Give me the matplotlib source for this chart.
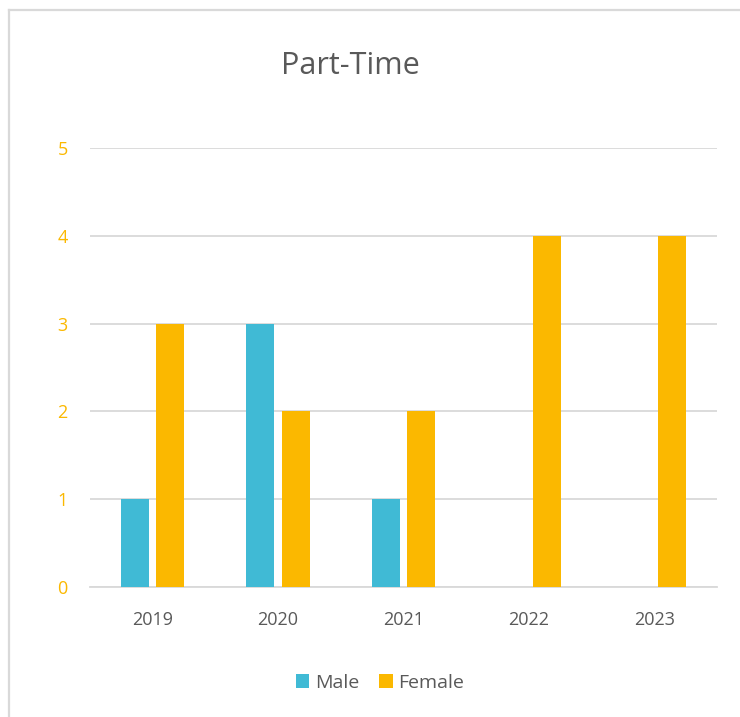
import matplotlib
matplotlib.use('Agg')
import matplotlib.pyplot as plt
import numpy as np
from matplotlib.lines import Line2D

plt.rcParams['font.family'] = ['Open Sans', 'DejaVu Sans']

# Data
years = ['2019', '2020', '2021', '2022', '2023']
male = [1, 3, 1, 0, 0]
female = [3, 2, 2, 4, 4]

MALE_CLR = '#40BAD5'
FEMALE_CLR = '#FBB800'
GRID_CLR = '#D9D9D9'
TEXT_CLR = '#595959'

W, H = 740, 717
fig = plt.figure(figsize=(W / 100, H / 100), dpi=100)

# outer chart border: only left and top edges are visible
bx, by = 8.5 / W, 1 - 9.5 / H
fig.add_artist(Line2D([bx, bx], [-0.05, by], transform=fig.transFigure,
                      color=GRID_CLR, lw=1.6))
fig.add_artist(Line2D([bx, 1.05], [by, by], transform=fig.transFigure,
                      color=GRID_CLR, lw=1.6))

ax = fig.add_axes([90 / W, 1 - 587 / H, (717 - 90) / W, (587 - 148) / H])

x = np.arange(len(years))
bw = 0.223
off = 0.141
ax.bar(x - off, male, bw, color=MALE_CLR, label='Male', zorder=3)
ax.bar(x + off, female, bw, color=FEMALE_CLR, label='Female', zorder=3)

ax.set_xlim(-0.5, len(years) - 0.5)
ax.set_ylim(0, 5)
ax.set_yticks(range(6))
ax.set_xticks(x)
ax.set_xticklabels(years)
ax.yaxis.grid(True, color=GRID_CLR, lw=1.3, zorder=0)
for s in ['top', 'right', 'left']:
    ax.spines[s].set_visible(False)
ax.spines['bottom'].set_color(GRID_CLR)
ax.spines['bottom'].set_linewidth(1.3)
ax.tick_params(axis='y', length=0, colors=FEMALE_CLR, labelsize=13, pad=16)
ax.tick_params(axis='x', length=0, colors=TEXT_CLR, labelsize=13, pad=17)

fig.text(350 / W, 1 - 66 / H, 'Part-Time', ha='center', va='center',
         fontsize=22, color=TEXT_CLR)

leg = fig.legend(loc='center', bbox_to_anchor=(380 / W, 1 - 683 / H),
                 ncol=2, frameon=False, fontsize=14, handlelength=0.7,
                 handleheight=0.7, handletextpad=0.3, columnspacing=1.0)
for t in leg.get_texts():
    t.set_color(TEXT_CLR)

fig.savefig('out.png', dpi=100, facecolor='white')
